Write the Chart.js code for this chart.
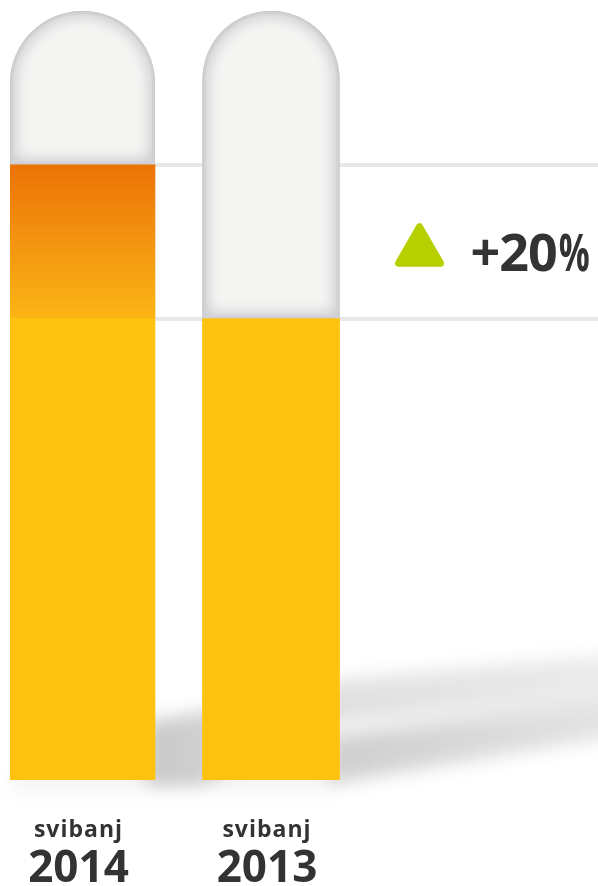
<!DOCTYPE html>
<html>
<head>
<meta charset="utf-8">
<script src="https://cdn.jsdelivr.net/npm/chart.js@4/dist/chart.umd.min.js"></script>
<style>
  html, body { margin: 0; padding: 0; background: #ffffff; }
  canvas { display: block; }
</style>
</head>
<body>
<canvas id="chart" width="598" height="886"></canvas>
<script>
// ---- data ----
const months = ['svibanj', 'svibanj'];
const years = ['2014', '2013'];
const values = [120, 100];
const tubeMax = 140;
const axisMin = 40;
const gridValues = [100, 120];

// ---- style ----
const barWidths = [145, 137];
const xMin = -0.3846, xMax = 2.7348;
const TUBE_BG = '#f4f4f3';
const YELLOW = '#fdc110';
const ORANGE = '#ec7205';
const TEXT = '#333333';
const GREEN = '#b5cf00';
const FONT = '"Open Sans", "DejaVu Sans", sans-serif';

const datasets = [];
const fillIdx = [];
values.forEach((v, i) => {
  const w = barWidths[i];
  datasets.push({
    tube: true,
    data: [{ x: i, y: [v, tubeMax] }],
    backgroundColor: TUBE_BG,
    borderWidth: 0,
    borderSkipped: false,
    borderRadius: { topLeft: w / 2, topRight: w / 2, bottomLeft: 0, bottomRight: 0 },
    barThickness: w,
    order: 2
  });
});
values.forEach((v, i) => {
  fillIdx.push(datasets.length);
  datasets.push({
    data: [{ x: i, y: [axisMin, v] }],
    backgroundColor: (ctx) => {
      const chart = ctx.chart;
      const next = values[i + 1];
      if (!chart.chartArea || next === undefined || next >= v) return YELLOW;
      const ys = chart.scales.y;
      const g = chart.ctx.createLinearGradient(0, ys.getPixelForValue(v), 0, ys.getPixelForValue(next));
      g.addColorStop(0, ORANGE);
      g.addColorStop(0.5, '#f39410');
      g.addColorStop(0.995, '#fbb514');
      g.addColorStop(1, YELLOW);
      return g;
    },
    borderWidth: 0,
    borderSkipped: false,
    barThickness: barWidths[i],
    order: 1
  });
});

function tubePath(ctx, el) {
  const { x, y, base, width } = el.getProps(['x', 'y', 'base', 'width'], true);
  const l = x - width / 2, r = x + width / 2, rad = width / 2;
  ctx.beginPath();
  ctx.moveTo(l, base);
  ctx.lineTo(l, y + rad);
  ctx.arc(x, y + rad, rad, Math.PI, 0);
  ctx.lineTo(r, base);
  ctx.closePath();
}

function fillEls(chart) {
  const ys = chart.scales.y;
  const bottom = ys.getPixelForValue(ys.min);
  return fillIdx.map(d => {
    const el = chart.getDatasetMeta(d).data[0];
    return { x: el.x, width: el.width, top: el.y, bottom: Math.min(bottom, el.base) };
  });
}

const shadowPlugin = {
  id: 'castShadow',
  beforeDatasetsDraw(chart) {
    const ctx = chart.ctx;
    const W = chart.width;
    const els = fillEls(chart);
    const a = els[0], b = els[1];
    const al = a.x - a.width / 2, ar = a.x + a.width / 2, ab = a.bottom;
    const bl = b.x - b.width / 2, br = b.x + b.width / 2, bb = b.bottom;
    ctx.save();
    ctx.filter = 'blur(9px)';
    // faint contact shadow under the bars
    ctx.fillStyle = 'rgba(0,0,0,0.05)';
    ctx.fillRect(al, ab - 6, br - al, 16);
    // shadow cast by first bar
    let g = ctx.createLinearGradient(ar, 0, W, 0);
    g.addColorStop(0, 'rgba(0,0,0,0.21)');
    g.addColorStop(0.3, 'rgba(0,0,0,0.13)');
    g.addColorStop(1, 'rgba(0,0,0,0.08)');
    ctx.fillStyle = g;
    ctx.beginPath();
    ctx.moveTo(ar - 10, ab + 4);
    ctx.lineTo(ar - 10, ab - 58);
    ctx.lineTo(bl, ab - 68);
    ctx.lineTo(br, ab - 100);
    ctx.lineTo(W + 20, ab - 126);
    ctx.lineTo(W + 20, ab - 84);
    ctx.lineTo(br, ab - 56);
    ctx.lineTo(bl, ab + 4);
    ctx.closePath();
    ctx.fill();
    // shadow cast by second bar
    g = ctx.createLinearGradient(br, 0, W, 0);
    g.addColorStop(0, 'rgba(0,0,0,0.19)');
    g.addColorStop(1, 'rgba(0,0,0,0.11)');
    ctx.fillStyle = g;
    ctx.beginPath();
    ctx.moveTo(br - 10, bb + 4);
    ctx.lineTo(br - 10, bb - 44);
    ctx.lineTo(W + 20, bb - 84);
    ctx.lineTo(W + 20, bb - 44);
    ctx.closePath();
    ctx.fill();
    ctx.restore();
  },
  afterDatasetDraw(chart, args) {
    const ds = chart.data.datasets[args.index];
    if (!ds.tube) return;
    const ctx = chart.ctx;
    const el = args.meta.data[0];
    ctx.save();
    tubePath(ctx, el);
    ctx.clip();
    tubePath(ctx, el);
    ctx.shadowColor = 'rgba(70,74,80,0.45)';
    ctx.shadowBlur = 14;
    ctx.lineWidth = 6;
    ctx.strokeStyle = 'rgba(208,209,212,1)';
    ctx.stroke();
    ctx.shadowBlur = 0;
    ctx.lineWidth = 2;
    ctx.strokeStyle = 'rgba(202,203,206,1)';
    ctx.stroke();
    ctx.restore();
  }
};

const textPlugin = {
  id: 'texts',
  afterDraw(chart) {
    const ctx = chart.ctx;
    const ys = chart.scales.y;
    const els = fillEls(chart);
    ctx.save();
    ctx.fillStyle = TEXT;
    ctx.textAlign = 'center';
    ctx.textBaseline = 'alphabetic';
    els.forEach((el, i) => {
      const cx = el.x - 4;
      ctx.font = 'bold 23px ' + FONT;
      ctx.letterSpacing = '1px';
      ctx.fillText(months[i], cx, el.bottom + 57);
      ctx.letterSpacing = '0px';
      ctx.font = 'bold 44px ' + FONT;
      ctx.fillText(years[i], cx, el.bottom + 102);
    });
    // change indicator
    const change = Math.round((values[0] - values[1]) / values[1] * 100);
    const midY = (ys.getPixelForValue(values[0]) + ys.getPixelForValue(values[1])) / 2;
    const b = els[1];
    const rx = b.x + b.width / 2;
    const tl = rx + 59, tr = rx + 101, tTop = midY - 15, tBot = midY + 21.5;
    ctx.fillStyle = GREEN;
    ctx.strokeStyle = GREEN;
    ctx.lineWidth = 7;
    ctx.lineJoin = 'round';
    ctx.beginPath();
    if (change >= 0) {
      ctx.moveTo(tl, tBot); ctx.lineTo(tr, tBot); ctx.lineTo((tl + tr) / 2, tTop);
    } else {
      ctx.moveTo(tl, tTop); ctx.lineTo(tr, tTop); ctx.lineTo((tl + tr) / 2, tBot);
    }
    ctx.closePath();
    ctx.fill();
    ctx.stroke();
    ctx.fillStyle = TEXT;
    ctx.textAlign = 'left';
    ctx.font = 'bold 52px ' + FONT;
    ctx.letterSpacing = '-1px';
    const num = (change >= 0 ? '+' : '') + change;
    const tx = rx + 131, ty = midY + 29.5;
    ctx.fillText(num, tx, ty);
    const nw = ctx.measureText(num).width;
    ctx.letterSpacing = '0px';
    ctx.fillText('%', tx + nw + 2, ty, 31);
    ctx.restore();
  }
};

function build() {
  new Chart(document.getElementById('chart'), {
    type: 'bar',
    data: { datasets },
    options: {
      responsive: false,
      animation: false,
      events: [],
      datasets: { bar: { grouped: false } },
      layout: { padding: { left: 10, right: 0, top: 11, bottom: 106 } },
      plugins: { legend: { display: false }, tooltip: { enabled: false } },
      scales: {
        x: { type: 'linear', min: xMin, max: xMax, offset: false, display: false },
        y: {
          min: axisMin,
          max: tubeMax,
          z: 1,
          border: { display: false },
          ticks: { display: false },
          grid: { color: 'rgba(0,0,0,0.095)', lineWidth: 4, drawTicks: false },
          afterBuildTicks: (scale) => { scale.ticks = gridValues.map(v => ({ value: v })); }
        }
      }
    },
    plugins: [shadowPlugin, textPlugin]
  });
}

if (document.fonts && document.fonts.load) {
  Promise.all([
    document.fonts.load('bold 44px "Open Sans"'),
    document.fonts.load('bold 23px "Open Sans"')
  ]).then(build, build);
} else {
  build();
}
</script>
</body>
</html>
